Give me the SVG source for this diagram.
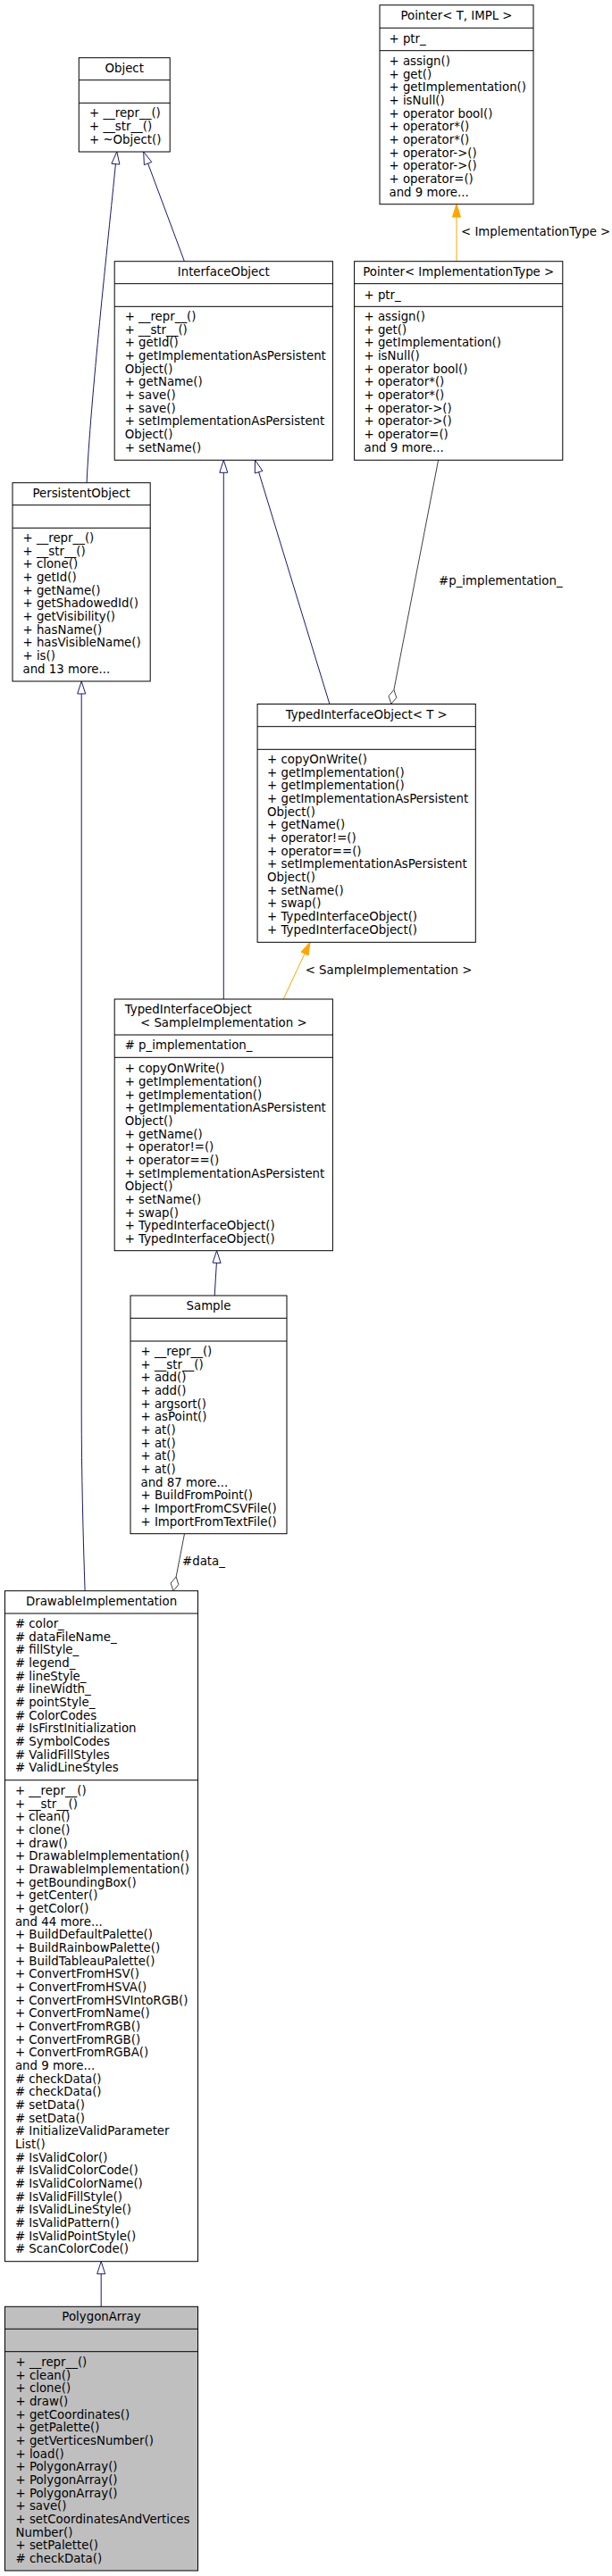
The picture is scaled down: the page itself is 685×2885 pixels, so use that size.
<svg xmlns="http://www.w3.org/2000/svg" width="685" height="2885" viewBox="0 0 685 2885">
<style>
text{font-family:"DejaVu Sans","Liberation Sans",sans-serif;font-size:13.33px;fill:#000}
.c{text-anchor:middle}
.box{fill:#fff;stroke:#000;stroke-width:1}
.cur{fill:#bfbfbf;stroke:#000;stroke-width:1}
.dv{stroke:#000;stroke-width:1}
.inh{fill:none;stroke:#191970;stroke-width:1}
.inhh{fill:#fff;stroke:#191970;stroke-width:1}
.tpl{fill:none;stroke:#ffa500;stroke-width:1}
.tplh{fill:#ffa500;stroke:#ffa500;stroke-width:1}
.use{fill:none;stroke:#404040;stroke-width:1}
.useh{fill:#fff;stroke:#404040;stroke-width:1}
</style>
<rect width="685" height="2885" fill="#fff"/>

<g id="connectors">
  <!-- PersistentObject -> Object -->
  <path class="inh" d="M97.1,540.7 C101,450 121,270 129.4,183.7"/>
  <polygon class="inhh" points="130.8,169.8 133.9,184.1 124.9,183.3"/>
  <!-- InterfaceObject -> Object -->
  <path class="inh" d="M206.4,292.7 L165.6,183.1"/>
  <polygon class="inhh" points="160.7,170 169.8,181.5 161.4,184.7"/>
  <!-- Pointer<ImplementationType> -> Pointer<T, IMPL> -->
  <path class="tpl" d="M511,292.7 L511,243"/>
  <polygon class="tplh" points="511,228.7 515.5,243 506.5,243"/>
  <text x="516" y="264">&lt; ImplementationType &gt;</text>
  <!-- TypedInterfaceObject<SampleImplementation> -> InterfaceObject -->
  <path class="inh" d="M250.3,1119 L250.3,529.3"/>
  <polygon class="inhh" points="250.3,515.3 254.8,529.3 245.8,529.3"/>
  <!-- TypedInterfaceObject<T> -> InterfaceObject -->
  <path class="inh" d="M368.9,788.5 L289.6,528.7"/>
  <polygon class="inhh" points="285.5,515.3 293.9,527.4 285.3,530"/>
  <!-- Pointer<ImplementationType> -> TypedInterfaceObject<T> (aggregation) -->
  <path class="use" d="M490.6,515.3 L440.9,772.6"/>
  <polygon class="useh" points="437.9,788.3 443.8,781.3 440.9,772.6 435,779.5"/>
  <text x="491" y="655.3">#p_implementation_</text>
  <!-- TypedInterfaceObject<SampleImplementation> -> TypedInterfaceObject<T> -->
  <path class="tpl" d="M317.1,1119 L341.05,1068"/>
  <polygon class="tplh" points="347,1055.3 345.1,1069.9 337,1066.1"/>
  <text x="341.7" y="1090.6">&lt; SampleImplementation &gt;</text>
  <!-- Sample -> TypedInterfaceObject<SampleImplementation> -->
  <path class="inh" d="M240.2,1451 L242.4,1414.4"/>
  <polygon class="inhh" points="242.6,1400.7 247.1,1414.6 238.1,1414.2"/>
  <!-- DrawableImplementation -> PersistentObject -->
  <path class="inh" d="M95.1,1781.7 C93,1720 91.2,1650 91.2,1580 L91.2,777"/>
  <polygon class="inhh" points="91.2,763 95.7,777 86.7,777"/>
  <!-- Sample -> DrawableImplementation (aggregation) -->
  <path class="use" d="M206.5,1717.7 L197.1,1766"/>
  <polygon class="useh" points="194,1781.7 199.9,1774.7 197.1,1766 191.1,1773"/>
  <text x="204" y="1753">#data_</text>
  <!-- PolygonArray -> DrawableImplementation -->
  <path class="inh" d="M113.2,2583.3 L113.2,2546.7"/>
  <polygon class="inhh" points="113.2,2532.7 117.7,2546.7 108.7,2546.7"/>
</g>

<g id="pointer_t_impl">
  <rect class="box" x="425" y="5.7" width="172" height="223"/>
  <line class="dv" x1="425" y1="31.3" x2="597" y2="31.3"/>
  <line class="dv" x1="425" y1="56.7" x2="597" y2="56.7"/>
  <text class="c" x="511" y="21.9">Pointer&lt; T, IMPL &gt;</text>
  <text x="435.5" y="48">+ ptr_</text>
  <text x="435.5" y="72.9">+ assign()<tspan x="435.5" dy="14.67">+ get()</tspan><tspan x="435.5" dy="14.67">+ getImplementation()</tspan><tspan x="435.5" dy="14.67">+ isNull()</tspan><tspan x="435.5" dy="14.67">+ operator bool()</tspan><tspan x="435.5" dy="14.67">+ operator*()</tspan><tspan x="435.5" dy="14.67">+ operator*()</tspan><tspan x="435.5" dy="14.67">+ operator-&gt;()</tspan><tspan x="435.5" dy="14.67">+ operator-&gt;()</tspan><tspan x="435.5" dy="14.67">+ operator=()</tspan><tspan x="435.5" dy="14.67">and 9 more...</tspan></text>
</g>

<g id="object">
  <rect class="box" x="88.3" y="64.7" width="101.9" height="105.3"/>
  <line class="dv" x1="88.3" y1="89.7" x2="190.2" y2="89.7"/>
  <line class="dv" x1="88.3" y1="115.3" x2="190.2" y2="115.3"/>
  <text class="c" x="139.2" y="81.3">Object</text>
  <text x="100" y="131.3">+ __repr__()<tspan x="100" dy="14.67">+ __str__()</tspan><tspan x="100" dy="14.67">+ ~Object()</tspan></text>
</g>

<g id="interfaceobject">
  <rect class="box" x="128.2" y="292.7" width="244.2" height="222.6"/>
  <line class="dv" x1="128.2" y1="317.7" x2="372.4" y2="317.7"/>
  <line class="dv" x1="128.2" y1="343.3" x2="372.4" y2="343.3"/>
  <text class="c" x="250.3" y="308.9">InterfaceObject</text>
  <text x="139.7" y="358.9">+ __repr__()<tspan x="139.7" dy="14.67">+ __str__()</tspan><tspan x="139.7" dy="14.67">+ getId()</tspan><tspan x="139.7" dy="14.67">+ getImplementationAsPersistent</tspan><tspan x="139.7" dy="14.67">Object()</tspan><tspan x="139.7" dy="14.67">+ getName()</tspan><tspan x="139.7" dy="14.67">+ save()</tspan><tspan x="139.7" dy="14.67">+ save()</tspan><tspan x="139.7" dy="14.67">+ setImplementationAsPersistent</tspan><tspan x="139.7" dy="14.67">Object()</tspan><tspan x="139.7" dy="14.67">+ setName()</tspan></text>
</g>

<g id="pointer_impltype">
  <rect class="box" x="396.6" y="292.7" width="233.2" height="222.6"/>
  <line class="dv" x1="396.6" y1="317.7" x2="629.8" y2="317.7"/>
  <line class="dv" x1="396.6" y1="343.3" x2="629.8" y2="343.3"/>
  <text class="c" x="513.2" y="308.9">Pointer&lt; ImplementationType &gt;</text>
  <text x="407.5" y="334.6">+ ptr_</text>
  <text x="407.5" y="358.9">+ assign()<tspan x="407.5" dy="14.67">+ get()</tspan><tspan x="407.5" dy="14.67">+ getImplementation()</tspan><tspan x="407.5" dy="14.67">+ isNull()</tspan><tspan x="407.5" dy="14.67">+ operator bool()</tspan><tspan x="407.5" dy="14.67">+ operator*()</tspan><tspan x="407.5" dy="14.67">+ operator*()</tspan><tspan x="407.5" dy="14.67">+ operator-&gt;()</tspan><tspan x="407.5" dy="14.67">+ operator-&gt;()</tspan><tspan x="407.5" dy="14.67">+ operator=()</tspan><tspan x="407.5" dy="14.67">and 9 more...</tspan></text>
</g>

<g id="persistentobject">
  <rect class="box" x="14" y="540.7" width="154.2" height="222.3"/>
  <line class="dv" x1="14" y1="565.7" x2="168.2" y2="565.7"/>
  <line class="dv" x1="14" y1="591.3" x2="168.2" y2="591.3"/>
  <text class="c" x="91.1" y="557.3">PersistentObject</text>
  <text x="25.5" y="606.9">+ __repr__()<tspan x="25.5" dy="14.67">+ __str__()</tspan><tspan x="25.5" dy="14.67">+ clone()</tspan><tspan x="25.5" dy="14.67">+ getId()</tspan><tspan x="25.5" dy="14.67">+ getName()</tspan><tspan x="25.5" dy="14.67">+ getShadowedId()</tspan><tspan x="25.5" dy="14.67">+ getVisibility()</tspan><tspan x="25.5" dy="14.67">+ hasName()</tspan><tspan x="25.5" dy="14.67">+ hasVisibleName()</tspan><tspan x="25.5" dy="14.67">+ is()</tspan><tspan x="25.5" dy="14.67">and 13 more...</tspan></text>
</g>

<g id="typedinterfaceobject_t">
  <rect class="box" x="288.1" y="788.5" width="244.2" height="266.8"/>
  <line class="dv" x1="288.1" y1="813.7" x2="532.3" y2="813.7"/>
  <line class="dv" x1="288.1" y1="839.3" x2="532.3" y2="839.3"/>
  <text class="c" x="410.2" y="805.3">TypedInterfaceObject&lt; T &gt;</text>
  <text x="299.1" y="854.9">+ copyOnWrite()<tspan x="299.1" dy="14.67">+ getImplementation()</tspan><tspan x="299.1" dy="14.67">+ getImplementation()</tspan><tspan x="299.1" dy="14.67">+ getImplementationAsPersistent</tspan><tspan x="299.1" dy="14.67">Object()</tspan><tspan x="299.1" dy="14.67">+ getName()</tspan><tspan x="299.1" dy="14.67">+ operator!=()</tspan><tspan x="299.1" dy="14.67">+ operator==()</tspan><tspan x="299.1" dy="14.67">+ setImplementationAsPersistent</tspan><tspan x="299.1" dy="14.67">Object()</tspan><tspan x="299.1" dy="14.67">+ setName()</tspan><tspan x="299.1" dy="14.67">+ swap()</tspan><tspan x="299.1" dy="14.67">+ TypedInterfaceObject()</tspan><tspan x="299.1" dy="14.67">+ TypedInterfaceObject()</tspan></text>
</g>

<g id="typedinterfaceobject_sample">
  <rect class="box" x="128.2" y="1119" width="244.2" height="281.7"/>
  <line class="dv" x1="128.2" y1="1159" x2="372.4" y2="1159"/>
  <line class="dv" x1="128.2" y1="1184.3" x2="372.4" y2="1184.3"/>
  <text x="139.7" y="1135.3">TypedInterfaceObject</text>
  <text class="c" x="250.3" y="1149.9">&lt; SampleImplementation &gt;</text>
  <text x="139.7" y="1175.3"># p_implementation_</text>
  <text x="139.7" y="1201.3">+ copyOnWrite()<tspan x="139.7" dy="14.67">+ getImplementation()</tspan><tspan x="139.7" dy="14.67">+ getImplementation()</tspan><tspan x="139.7" dy="14.67">+ getImplementationAsPersistent</tspan><tspan x="139.7" dy="14.67">Object()</tspan><tspan x="139.7" dy="14.67">+ getName()</tspan><tspan x="139.7" dy="14.67">+ operator!=()</tspan><tspan x="139.7" dy="14.67">+ operator==()</tspan><tspan x="139.7" dy="14.67">+ setImplementationAsPersistent</tspan><tspan x="139.7" dy="14.67">Object()</tspan><tspan x="139.7" dy="14.67">+ setName()</tspan><tspan x="139.7" dy="14.67">+ swap()</tspan><tspan x="139.7" dy="14.67">+ TypedInterfaceObject()</tspan><tspan x="139.7" dy="14.67">+ TypedInterfaceObject()</tspan></text>
</g>

<g id="sample">
  <rect class="box" x="146" y="1451" width="175" height="266.7"/>
  <line class="dv" x1="146" y1="1476.3" x2="321" y2="1476.3"/>
  <line class="dv" x1="146" y1="1502" x2="321" y2="1502"/>
  <text class="c" x="233.5" y="1467.3">Sample</text>
  <text x="157.5" y="1517.9">+ __repr__()<tspan x="157.5" dy="14.67">+ __str__()</tspan><tspan x="157.5" dy="14.67">+ add()</tspan><tspan x="157.5" dy="14.67">+ add()</tspan><tspan x="157.5" dy="14.67">+ argsort()</tspan><tspan x="157.5" dy="14.67">+ asPoint()</tspan><tspan x="157.5" dy="14.67">+ at()</tspan><tspan x="157.5" dy="14.67">+ at()</tspan><tspan x="157.5" dy="14.67">+ at()</tspan><tspan x="157.5" dy="14.67">+ at()</tspan><tspan x="157.5" dy="14.67">and 87 more...</tspan><tspan x="157.5" dy="14.67">+ BuildFromPoint()</tspan><tspan x="157.5" dy="14.67">+ ImportFromCSVFile()</tspan><tspan x="157.5" dy="14.67">+ ImportFromTextFile()</tspan></text>
</g>

<g id="drawableimplementation">
  <rect class="box" x="5.5" y="1781.7" width="216" height="751"/>
  <line class="dv" x1="5.5" y1="1807" x2="221.5" y2="1807"/>
  <line class="dv" x1="5.5" y1="1993.7" x2="221.5" y2="1993.7"/>
  <text class="c" x="113.5" y="1797.9">DrawableImplementation</text>
  <text x="16.9" y="1822.9"># color_<tspan x="16.9" dy="14.67"># dataFileName_</tspan><tspan x="16.9" dy="14.67"># fillStyle_</tspan><tspan x="16.9" dy="14.67"># legend_</tspan><tspan x="16.9" dy="14.67"># lineStyle_</tspan><tspan x="16.9" dy="14.67"># lineWidth_</tspan><tspan x="16.9" dy="14.67"># pointStyle_</tspan><tspan x="16.9" dy="14.67"># ColorCodes</tspan><tspan x="16.9" dy="14.67"># IsFirstInitialization</tspan><tspan x="16.9" dy="14.67"># SymbolCodes</tspan><tspan x="16.9" dy="14.67"># ValidFillStyles</tspan><tspan x="16.9" dy="14.67"># ValidLineStyles</tspan></text>
  <text x="16.9" y="2009.9">+ __repr__()<tspan x="16.9" dy="14.67">+ __str__()</tspan><tspan x="16.9" dy="14.67">+ clean()</tspan><tspan x="16.9" dy="14.67">+ clone()</tspan><tspan x="16.9" dy="14.67">+ draw()</tspan><tspan x="16.9" dy="14.67">+ DrawableImplementation()</tspan><tspan x="16.9" dy="14.67">+ DrawableImplementation()</tspan><tspan x="16.9" dy="14.67">+ getBoundingBox()</tspan><tspan x="16.9" dy="14.67">+ getCenter()</tspan><tspan x="16.9" dy="14.67">+ getColor()</tspan><tspan x="16.9" dy="14.67">and 44 more...</tspan><tspan x="16.9" dy="14.67">+ BuildDefaultPalette()</tspan><tspan x="16.9" dy="14.67">+ BuildRainbowPalette()</tspan><tspan x="16.9" dy="14.67">+ BuildTableauPalette()</tspan><tspan x="16.9" dy="14.67">+ ConvertFromHSV()</tspan><tspan x="16.9" dy="14.67">+ ConvertFromHSVA()</tspan><tspan x="16.9" dy="14.67">+ ConvertFromHSVIntoRGB()</tspan><tspan x="16.9" dy="14.67">+ ConvertFromName()</tspan><tspan x="16.9" dy="14.67">+ ConvertFromRGB()</tspan><tspan x="16.9" dy="14.67">+ ConvertFromRGB()</tspan><tspan x="16.9" dy="14.67">+ ConvertFromRGBA()</tspan><tspan x="16.9" dy="14.67">and 9 more...</tspan><tspan x="16.9" dy="14.67"># checkData()</tspan><tspan x="16.9" dy="14.67"># checkData()</tspan><tspan x="16.9" dy="14.67"># setData()</tspan><tspan x="16.9" dy="14.67"># setData()</tspan><tspan x="16.9" dy="14.67"># InitializeValidParameter</tspan><tspan x="16.9" dy="14.67">List()</tspan><tspan x="16.9" dy="14.67"># IsValidColor()</tspan><tspan x="16.9" dy="14.67"># IsValidColorCode()</tspan><tspan x="16.9" dy="14.67"># IsValidColorName()</tspan><tspan x="16.9" dy="14.67"># IsValidFillStyle()</tspan><tspan x="16.9" dy="14.67"># IsValidLineStyle()</tspan><tspan x="16.9" dy="14.67"># IsValidPattern()</tspan><tspan x="16.9" dy="14.67"># IsValidPointStyle()</tspan><tspan x="16.9" dy="14.67"># ScanColorCode()</tspan></text>
</g>

<g id="polygonarray">
  <rect class="cur" x="5.5" y="2583.3" width="216" height="295.7"/>
  <line class="dv" x1="5.5" y1="2608.3" x2="221.5" y2="2608.3"/>
  <line class="dv" x1="5.5" y1="2633.7" x2="221.5" y2="2633.7"/>
  <text class="c" x="113.5" y="2599.3">PolygonArray</text>
  <text x="17.5" y="2649.9">+ __repr__()<tspan x="17.5" dy="14.67">+ clean()</tspan><tspan x="17.5" dy="14.67">+ clone()</tspan><tspan x="17.5" dy="14.67">+ draw()</tspan><tspan x="17.5" dy="14.67">+ getCoordinates()</tspan><tspan x="17.5" dy="14.67">+ getPalette()</tspan><tspan x="17.5" dy="14.67">+ getVerticesNumber()</tspan><tspan x="17.5" dy="14.67">+ load()</tspan><tspan x="17.5" dy="14.67">+ PolygonArray()</tspan><tspan x="17.5" dy="14.67">+ PolygonArray()</tspan><tspan x="17.5" dy="14.67">+ PolygonArray()</tspan><tspan x="17.5" dy="14.67">+ save()</tspan><tspan x="17.5" dy="14.67">+ setCoordinatesAndVertices</tspan><tspan x="17.5" dy="14.67">Number()</tspan><tspan x="17.5" dy="14.67">+ setPalette()</tspan><tspan x="17.5" dy="14.67"># checkData()</tspan></text>
</g>
</svg>
